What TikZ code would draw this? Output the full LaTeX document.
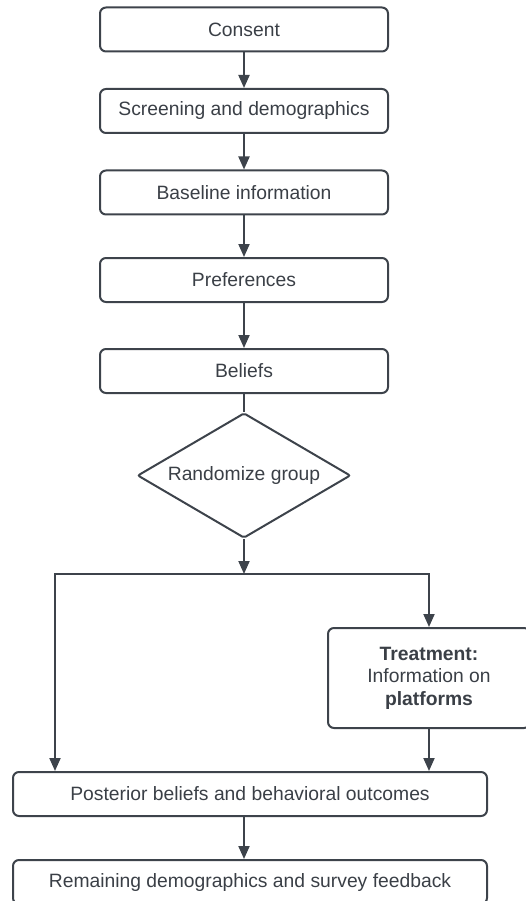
\documentclass[tikz,border=0pt]{standalone}
\usepackage{fontspec}
\setmainfont{Liberation Sans}
\usepackage{tikz}
\usetikzlibrary{arrows.meta, positioning, shapes.geometric}
\definecolor{EdgeGray}{HTML}{3D434B}
\definecolor{TextGray}{HTML}{3A3F46}

\begin{document}
\begin{tikzpicture}[x=1pt, y=-1pt,
    stagebox/.style={draw=EdgeGray, line width=2pt, rounded corners=6pt,
      minimum width=288pt, minimum height=44pt, inner sep=0pt, align=center,
      text=TextGray, font=\fontsize{19.3}{22.5}\selectfont},
    choicebox/.style={shape=diamond, draw=EdgeGray, line width=2pt, aspect=1.7,
      minimum width=213pt, minimum height=125pt, inner sep=0pt, align=center,
      rounded corners=2pt, text=TextGray, font=\fontsize{19.3}{22.5}\selectfont},
    flowline/.style={draw=EdgeGray, line width=2pt},
    flowarrow/.style={flowline, -{Triangle[width=11pt, length=13pt]}}]
  \useasboundingbox (0,0) rectangle (526,901);
  \clip (0,0) rectangle (526,901);

  % Main column
  \node[stagebox] (consent) at (244,29.5) {Consent};
  \node[stagebox, below=35.5pt of consent] (screen) {Screening and demographics};
  \node[stagebox, below=35.5pt of screen] (baseline) {Baseline information};
  \node[stagebox, below=41.5pt of baseline] (prefs) {Preferences};
  \node[stagebox, below=45pt of prefs] (beliefs) {Beliefs};
  \node[choicebox, below=18pt of beliefs] (randomize) {Randomize group};

  % Branches
  \coordinate[below=35pt of randomize] (split);
  \coordinate (leftdrop) at (55,574);
  \node[stagebox, minimum width=202pt, minimum height=100pt] (treat) at (429,678)
    {\textbf{Treatment:}\\Information on\\\textbf{platforms}};
  \node[stagebox, minimum width=474pt] (posterior) at (250,794)
    {Posterior beliefs and behavioral outcomes};
  \node[stagebox, minimum width=474pt, below=42pt of posterior] (remaining)
    {Remaining demographics and survey feedback};

  % Arrows
  \draw[flowarrow] (consent.south) -- (screen.north);
  \draw[flowarrow] (screen.south) -- (baseline.north);
  \draw[flowarrow] (baseline.south) -- (prefs.north);
  \draw[flowarrow] (prefs.south) -- (beliefs.north);
  \draw[flowline] (beliefs.south) -- (randomize.north);
  \draw[flowarrow] (randomize.south) -- (split);
  \draw[flowarrow] (split) -| (posterior.north -| leftdrop);
  \draw[flowarrow] (split) -| (treat.north);
  \draw[flowarrow] (treat.south) -- (treat.south |- posterior.north);
  \draw[flowarrow] (posterior.south -| randomize.south) -- (remaining.north -| randomize.south);
\end{tikzpicture}
\end{document}
